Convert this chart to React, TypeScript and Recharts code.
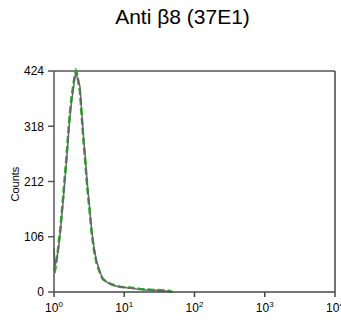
import React from 'react';
import { LineChart, Line, XAxis, YAxis, ReferenceLine } from 'recharts';

// log10 of fluorescence intensity (10^0 .. 10^4)
const logBins = [
  0.0, 0.015, 0.03, 0.061, 0.09, 0.11, 0.132, 0.155, 0.18, 0.205, 0.227, 0.25, 0.274, 0.295,
  0.312, 0.33, 0.35, 0.369, 0.39, 0.416, 0.445, 0.473, 0.505, 0.536, 0.57, 0.607, 0.64, 0.67,
  0.696, 0.73, 0.76, 0.795, 0.84, 0.89, 0.938, 0.99, 1.033, 1.1, 1.16, 1.222, 1.3, 1.406,
  1.48, 1.577, 1.65, 1.68,
];
const isotypeCounts = [
  85, 50, 58, 80, 115, 145, 176, 215, 253, 300, 336, 365, 388, 410,
  422, 412, 405, 394, 355, 305, 258, 209, 165, 119, 85, 58, 45, 33,
  24, 22, 18, 16, 13, 11, 10, 9, 8, 7, 6, 5, 4, 4,
  3, 2, 1, 0,
];
const antibodyCounts = [
  46, 42, 54, 86, 121, 152, 184, 223, 262, 309, 344, 374, 396, 416,
  424, 418, 400, 386, 346, 296, 250, 202, 158, 113, 80, 55, 42, 31,
  25, 21, 19, 16, 14, 12, 10, 9, 9, 8, 7, 6, 5, 4,
  4, 3, 2, 0,
];
const yTicks = [0, 106, 212, 318, 424];
const xTicks = [0, 1, 2, 3, 4];

const data = logBins.map((x, i) => ({
  x,
  gray: isotypeCounts[i],
  green: antibodyCounts[i],
}));

const font = '"Liberation Sans", Arial, sans-serif';

const PowerTick = (props: any) => {
  const { x, y, payload } = props;
  return (
    <text x={x} y={y + 13} textAnchor="middle" fontFamily={font} fontSize={12} fill="#000">
      10
      <tspan dy={-5} fontSize={8}>{payload.value}</tspan>
    </text>
  );
};

export default function App() {
  return (
    <div style={{ position: 'absolute', left: 0, top: 0, width: 341, height: 322, background: '#fff' }}>
      <div
        style={{
          position: 'absolute',
          left: 0,
          top: 6,
          width: 365,
          textAlign: 'center',
          fontFamily: font,
          fontSize: 21,
          lineHeight: '21px',
          color: '#000',
        }}
      >
        Anti β8 (37E1)
      </div>
      <LineChart width={341} height={322} data={data} margin={{ top: 71, right: 6, bottom: 0, left: 0 }}>
        <XAxis
          dataKey="x"
          type="number"
          domain={[0, 4]}
          ticks={xTicks}
          tick={<PowerTick />}
          tickSize={5}
          height={30}
          stroke="#444"
          strokeWidth={1.5}
        />
        <YAxis
          type="number"
          domain={[0, 424]}
          ticks={yTicks}
          tickSize={6}
          tickMargin={4}
          width={54}
          stroke="#555"
          strokeWidth={1.5}
          tick={{ fill: '#000', fontSize: 12, fontFamily: font }}
          label={{
            value: 'Counts',
            angle: -90,
            position: 'insideLeft',
            dx: 10,
            dy: 20,
            style: { fontSize: 11, fontFamily: font, fill: '#000' },
          }}
        />
        <ReferenceLine y={424} stroke="#000" strokeWidth={1} />
        <ReferenceLine x={4} stroke="#444" strokeWidth={1.5} />
        <Line
          dataKey="green"
          type="linear"
          stroke="#1cb51c"
          strokeWidth={2.5}
          strokeDasharray="7 3"
          dot={false}
          isAnimationActive={false}
        />
        <Line
          dataKey="gray"
          type="linear"
          stroke="#666"
          strokeWidth={1.5}
          dot={false}
          isAnimationActive={false}
        />
      </LineChart>
    </div>
  );
}
